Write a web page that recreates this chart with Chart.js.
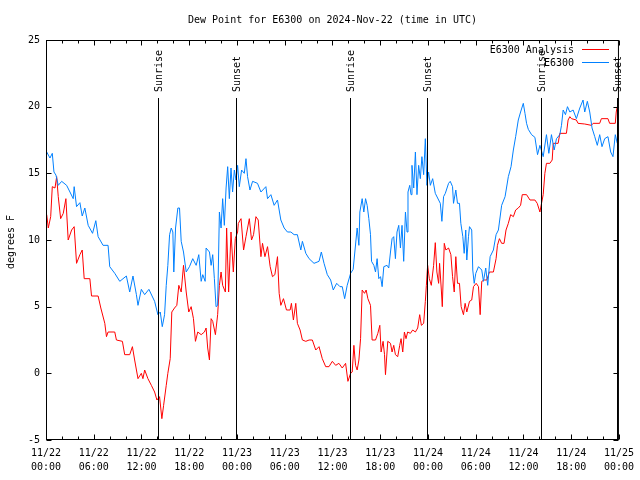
<!DOCTYPE html>
<html>
<head>
<meta charset="utf-8">
<script src="https://cdn.jsdelivr.net/npm/chart.js@4.4.1/dist/chart.umd.min.js"></script>
<style>
body { margin: 0; background: #fff; }
canvas { display: block; }
</style>
</head>
<body>
<canvas id="dewChart" width="640" height="480"></canvas>
<script>
// hours since 11/22 00:00 UTC
const blueHours = [0.09,0.50,0.79,1.00,1.25,1.54,1.97,2.59,3.01,3.42,
  3.54,3.84,4.26,4.55,4.88,5.30,5.85,6.26,6.55,7.17,
  7.80,8.01,8.64,9.27,10.10,10.52,10.93,11.36,11.56,11.98,
  12.40,12.93,13.65,14.06,14.36,14.61,14.90,15.11,15.31,15.53,
  15.74,15.94,16.06,16.28,16.57,16.78,16.99,17.28,17.62,18.03,
  18.44,18.87,19.20,19.50,19.70,20.00,20.12,20.54,20.75,20.95,
  21.16,21.37,21.57,21.79,22.00,22.20,22.41,22.63,22.83,23.04,
  23.25,23.45,23.67,23.88,24.08,24.29,24.58,24.92,25.13,25.33,
  25.63,25.96,26.58,27.01,27.63,27.84,28.26,28.67,29.09,29.51,
  29.93,30.34,30.77,31.18,31.59,32.02,32.22,32.65,33.06,33.68,
  34.31,34.60,34.94,35.35,35.77,36.10,36.53,36.94,37.23,37.53,
  37.85,38.28,38.60,39.10,39.32,39.44,39.73,39.94,40.16,40.36,
  40.57,40.78,40.91,41.20,41.41,41.61,41.82,42.04,42.24,42.45,
  42.86,43.07,43.29,43.49,43.70,43.91,44.11,44.33,44.54,44.74,
  44.95,45.17,45.37,45.49,45.71,45.87,45.99,46.21,46.42,46.62,
  46.83,47.04,47.24,47.46,47.67,47.87,48.08,48.30,48.59,48.92,
  49.34,49.55,49.75,49.96,50.18,50.59,50.80,51.09,51.21,51.50,
  51.71,51.96,52.13,52.38,52.55,52.75,52.88,53.09,53.22,53.50,
  53.63,53.81,54.01,54.35,54.76,54.97,55.26,55.51,55.81,56.22,
  56.56,56.85,57.26,57.69,58.10,58.44,58.73,59.02,59.35,59.64,
  59.98,60.19,60.39,60.61,61.02,61.44,61.77,62.07,62.48,62.89,
  63.19,63.52,63.86,64.15,64.57,64.78,64.99,65.28,65.53,65.83,
  66.24,66.65,67.08,67.49,67.70,68.03,68.33,68.62,68.96,69.28,
  69.58,69.87,70.21,70.62,70.96,71.25,71.54,71.79];
const blueVals = [16.6,16.15,16.5,15.1,14.87,14.1,14.4,14.1,13.6,13.1,
  14.0,12.5,12.8,11.8,12.4,11.1,10.5,11.45,10.25,9.6,
  9.6,8.0,7.5,6.9,7.3,6.1,7.3,5.9,5.1,6.3,
  5.9,6.3,5.4,4.4,4.6,3.5,4.4,6.6,8.1,10.4,
  10.9,10.6,7.6,10.9,12.4,12.4,9.9,9.1,7.6,8.0,
  8.6,8.1,8.9,6.9,7.4,6.9,9.4,9.1,8.1,8.9,
  7.1,5.0,5.1,12.1,10.9,13.1,11.1,13.9,15.5,13.1,
  15.4,13.6,15.25,14.5,15.6,14.0,15.25,15.0,16.1,14.75,
  13.75,14.4,14.25,13.6,14.0,13.1,13.4,12.6,13.0,11.5,
  10.9,10.6,10.6,10.4,10.4,9.25,9.9,9.0,8.6,8.25,
  8.4,9.1,8.25,7.4,7.0,6.25,6.75,6.5,6.5,5.6,
  6.6,7.5,7.8,10.9,9.6,12.1,13.1,12.1,13.1,12.6,
  11.6,10.4,8.4,8.1,7.6,8.6,7.1,7.25,6.5,8.0,
  8.1,7.9,9.1,10.1,10.25,8.6,10.6,11.1,9.4,11.1,
  8.4,12.1,10.6,13.6,14.1,13.4,15.6,13.9,16.6,13.4,
  15.6,14.6,16.25,14.9,17.6,14.1,15.1,14.1,14.6,13.5,
  13.0,12.75,11.4,13.25,13.5,14.25,14.4,14.0,12.75,13.75,
  12.75,12.75,11.25,10.25,9.0,10.75,8.5,10.25,11.0,10.75,
  7.75,6.75,7.5,8.0,7.75,6.9,7.9,6.6,8.75,9.25,
  10.4,10.75,12.6,13.25,14.75,15.5,16.75,17.75,19.0,19.6,
  20.25,19.5,18.75,18.3,17.9,17.7,16.4,17.1,16.25,17.9,
  16.5,17.9,16.75,17.6,17.9,18.6,19.75,19.4,20.0,19.6,
  19.75,19.1,19.9,20.5,19.6,20.4,19.6,18.4,17.75,17.1,
  17.9,17.0,17.6,17.75,16.6,16.25,17.9,17.25];

const redHours = [0.09,0.29,0.59,0.79,1.13,1.34,1.54,1.84,2.17,2.50,
  2.79,3.22,3.54,3.84,4.26,4.55,4.80,5.51,5.72,6.55,
  6.89,7.39,7.60,7.80,8.64,8.85,9.60,9.89,10.52,10.86,
  11.14,11.56,11.98,12.18,12.40,12.81,13.24,13.65,13.94,14.27,
  14.56,14.78,15.11,15.31,15.61,15.81,16.15,16.44,16.69,16.99,
  17.28,17.62,17.94,18.24,18.53,18.78,19.07,19.50,19.91,20.12,
  20.32,20.54,20.75,20.95,21.29,21.57,21.79,22.00,22.20,22.54,
  22.70,22.95,23.25,23.54,23.79,24.08,24.17,24.51,24.83,25.13,
  25.55,25.83,26.08,26.38,26.67,27.01,27.21,27.51,27.84,28.17,
  28.46,28.76,29.09,29.30,29.51,29.84,30.22,30.68,30.84,31.09,
  31.39,31.59,31.93,32.22,32.65,33.06,33.47,33.90,34.31,34.72,
  35.15,35.56,35.98,36.40,36.81,37.23,37.65,37.94,38.28,38.48,
  38.69,38.90,39.10,39.32,39.53,39.73,40.03,40.23,40.45,40.78,
  40.98,41.41,41.70,41.95,42.11,42.36,42.54,42.66,42.95,43.29,
  43.49,43.70,43.91,44.20,44.45,44.62,44.83,45.04,45.24,45.45,
  45.79,46.08,46.42,46.71,46.96,47.17,47.46,47.67,47.80,47.96,
  48.17,48.42,48.71,48.92,49.12,49.34,49.46,49.68,49.80,50.05,
  50.25,50.59,50.88,51.09,51.30,51.50,51.71,51.96,52.17,52.46,
  52.67,52.88,53.22,53.50,53.72,54.06,54.35,54.56,54.76,55.06,
  55.39,55.72,56.22,56.56,56.73,56.98,57.26,57.56,57.81,58.10,
  58.39,58.73,59.02,59.35,59.64,59.85,60.39,60.82,61.44,61.73,
  62.07,62.27,62.48,62.69,62.89,63.32,63.61,63.74,64.36,64.57,
  65.40,65.61,65.83,66.03,66.65,66.86,67.70,68.54,68.75,69.58,
  69.79,70.62,70.83,71.54,71.66,71.79];
const redVals = [11.9,10.9,11.75,14.0,13.9,14.75,13.25,11.6,12.0,13.1,
  10.0,10.75,11.0,8.25,8.9,9.25,7.1,7.1,5.8,5.8,
  4.9,3.75,2.75,3.1,3.1,2.5,2.4,1.4,1.4,2.0,
  1.0,-0.4,0,-0.4,0.25,-0.4,-0.9,-1.4,-2.0,-1.75,
  -3.4,-2.4,-0.9,0,1.1,4.6,4.9,5.1,6.6,6.1,
  8.1,6.1,4.6,5.0,4.1,2.4,3.1,2.9,3.1,3.4,
  1.9,1.0,4.1,3.9,2.9,4.4,6.6,7.6,6.6,6.1,
  10.9,6.1,10.6,7.6,10.1,10.6,11.25,11.6,9.25,10.25,
  11.6,10.0,10.4,11.75,11.5,8.75,9.75,8.75,9.5,8.0,
  7.25,7.4,8.75,6.0,5.1,5.6,4.75,4.75,5.25,4.0,
  5.25,3.75,3.25,2.5,2.4,2.5,2.5,1.75,2.0,1.1,
  0.5,0.5,0.9,0.6,0.75,0.4,0.75,-0.6,0.0,0.1,
  2.1,0.6,0.25,1.0,2.6,6.25,6.0,6.25,5.6,5.1,
  2.5,2.5,3.0,3.6,1.6,2.4,1.4,-0.1,2.4,2.25,
  1.6,2.1,1.4,1.25,2.1,2.6,1.6,3.1,2.6,3.1,
  3.0,3.25,3.1,3.4,4.4,3.6,3.75,5.4,6.6,8.1,
  7.1,6.6,8.1,9.8,7.6,6.75,8.25,6.25,5.0,9.75,
  9.25,9.4,8.9,7.25,6.1,8.75,6.75,6.75,5.0,4.4,
  5.25,4.6,5.4,5.5,6.5,6.75,6.5,4.4,6.9,7.0,
  7.0,7.6,7.6,8.6,9.6,10.1,9.75,9.75,10.75,11.25,
  11.9,11.75,12.25,12.4,12.6,13.4,13.4,13.0,13.0,12.75,
  12.1,12.75,13.4,15.0,15.75,15.75,16.0,17.25,17.25,18.0,
  18.0,19.0,19.25,19.1,19.0,18.75,18.7,18.6,18.75,18.75,
  19.1,19.1,18.75,18.75,19.6,20.0];

// sunrise / sunset markers
const eventHours = [14.06, 23.85, 38.15, 47.87, 62.15, 71.75];
const eventNames = ['Sunrise', 'Sunset', 'Sunrise', 'Sunset', 'Sunrise', 'Sunset'];

const seriesNames = ['E6300 Analysis', 'E6300'];
const seriesColors = ['#ff0000', '#0080ff'];
const yTicks = [-5, 0, 5, 10, 15, 20, 25];
const xDays = ['11/22', '11/23', '11/24', '11/25'];

const fontName = '"DejaVu Sans Mono", "Liberation Mono", monospace';
const font = '10px ' + fontName;

function toPoints(hs, vs) {
  return hs.map((h, i) => ({ x: h, y: vs[i] }));
}

// gnuplot style decorations: box, inward ticks, markers, title, legend
const decor = {
  id: 'decor',
  afterDatasetsDraw(chart) {
    const ctx = chart.ctx;
    const a = chart.chartArea;
    const xs = chart.scales.x, ys = chart.scales.y;
    const L = a.left + 0.5, R = a.right - 0.5, T = a.top + 0.5, B = a.bottom - 0.5;
    ctx.save();
    ctx.strokeStyle = '#000';
    ctx.fillStyle = '#000';
    ctx.lineWidth = 1;
    ctx.font = font;

    // sunrise / sunset lines
    eventHours.forEach((h, i) => {
      const px = Math.round(xs.getPixelForValue(h)) + 0.5;
      ctx.beginPath();
      ctx.moveTo(px, 98);
      ctx.lineTo(px, B);
      ctx.stroke();
      ctx.save();
      ctx.translate(px + 0.5, 92);
      ctx.rotate(-Math.PI / 2);
      ctx.textAlign = 'left';
      ctx.textBaseline = 'middle';
      ctx.fillText(eventNames[i], 0, 0);
      ctx.restore();
    });

    // border
    ctx.strokeRect(L, T, R - L, B - T);

    // x ticks, minor every 2 h
    ctx.beginPath();
    for (let h = 0; h <= 72; h += 2) {
      const px = Math.round(xs.getPixelForValue(h)) + 0.5;
      const len = h % 6 === 0 ? 5 : 3;
      ctx.moveTo(px, B); ctx.lineTo(px, B - len);
      ctx.moveTo(px, T); ctx.lineTo(px, T + len);
    }
    yTicks.forEach(v => {
      const py = Math.round(ys.getPixelForValue(v)) + 0.5;
      ctx.moveTo(L, py); ctx.lineTo(L + 5, py);
      ctx.moveTo(R, py); ctx.lineTo(R - 5, py);
    });
    ctx.stroke();

    // title
    ctx.textAlign = 'center';
    ctx.textBaseline = 'middle';
    ctx.fillText('Dew Point for E6300 on 2024-Nov-22 (time in UTC)', (a.left + a.right) / 2, 20);

    // y axis title
    ctx.save();
    ctx.translate(11, 242);
    ctx.rotate(-Math.PI / 2);
    ctx.fillText('degrees F', 0, 0);
    ctx.restore();

    // legend
    seriesNames.forEach((name, i) => {
      const y = 50 + i * 13;
      ctx.fillStyle = '#000';
      ctx.textAlign = 'right';
      ctx.fillText(name, 574, y);
      ctx.strokeStyle = seriesColors[i];
      ctx.beginPath();
      ctx.moveTo(582, y - 0.5);
      ctx.lineTo(609, y - 0.5);
      ctx.stroke();
    });
    ctx.restore();
  }
};

const ctx = document.getElementById('dewChart').getContext('2d');
const dewChart = new Chart(ctx, {
  type: 'line',
  data: {
    datasets: [{
      label: seriesNames[0],
      data: toPoints(redHours, redVals),
      borderColor: seriesColors[0],
      borderWidth: 1,
      pointRadius: 0,
      tension: 0,
      order: 2
    }, {
      label: seriesNames[1],
      data: toPoints(blueHours, blueVals),
      borderColor: seriesColors[1],
      borderWidth: 1,
      pointRadius: 0,
      tension: 0,
      order: 1
    }]
  },
  options: {
    responsive: false,
    animation: false,
    layout: { padding: { top: 40, right: 19, left: 0, bottom: 0 } },
    plugins: {
      legend: { display: false },
      title: { display: false },
      tooltip: { enabled: false }
    },
    scales: {
      x: {
        type: 'linear',
        min: 0,
        max: 72,
        grid: { display: false, drawTicks: false },
        border: { display: false },
        afterFit: s => { s.height = 40; },
        afterBuildTicks: s => {
          s.ticks = [];
          for (let h = 0; h <= 72; h += 6) s.ticks.push({ value: h });
        },
        ticks: {
          autoSkip: false,
          maxRotation: 0,
          padding: 6,
          color: '#000',
          font: { family: fontName, size: 10, lineHeight: 1.4 },
          callback: v => {
            const hr = v % 24;
            return [xDays[Math.floor(v / 24)], (hr < 10 ? '0' : '') + hr + ':00'];
          }
        }
      },
      y: {
        min: -5,
        max: 25,
        grid: { display: false, drawTicks: false },
        border: { display: false },
        afterFit: s => { s.width = 46; },
        afterBuildTicks: s => { s.ticks = yTicks.map(v => ({ value: v })); },
        ticks: {
          padding: 6,
          color: '#000',
          font: { family: fontName, size: 10 }
        }
      }
    }
  },
  plugins: [decor]
});
</script>
</body>
</html>
